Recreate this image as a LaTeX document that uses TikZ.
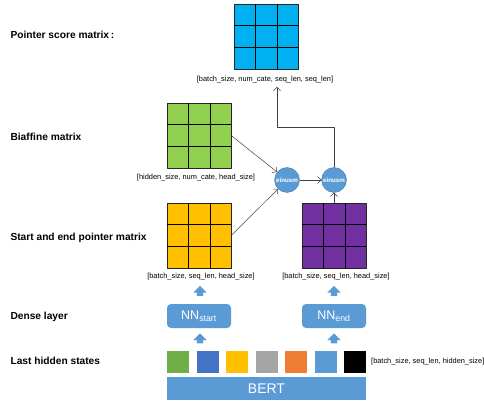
\documentclass[tikz,border=0pt]{standalone}
\usepackage{fontspec}
\setmainfont{Liberation Sans}
\usetikzlibrary{arrows.meta,shapes.arrows,calc}
\definecolor{cscore}{RGB}{0,176,240}
\definecolor{cbia}{RGB}{146,208,80}
\definecolor{cstart}{RGB}{255,192,0}
\definecolor{cend}{RGB}{112,48,160}
\definecolor{cnode}{RGB}{91,155,213}
\definecolor{hgreen}{RGB}{112,173,71}
\definecolor{hblue}{RGB}{68,114,196}
\definecolor{hgray}{RGB}{165,165,165}
\definecolor{horange}{RGB}{237,125,49}
% matrix of 3x3 cells: name, centre, fill
\newcommand{\cellmat}[3]{%
  \node[mat, fill=#3] (#1) at (#2) {};
  \foreach \k in {1,2} {
    \draw ($(#1.north west)!\k/3!(#1.north east)$) -- ($(#1.south west)!\k/3!(#1.south east)$);
    \draw ($(#1.north west)!\k/3!(#1.south west)$) -- ($(#1.north east)!\k/3!(#1.south east)$);
  }
}
\begin{document}
\begin{tikzpicture}[x=1pt,y=-1pt,>={Straight Barb[length=3.5pt]}, font=\fontsize{7.4}{9}\selectfont, line join=round]
  \tikzset{
    mat/.style={draw=black!85, minimum width=64pt, minimum height=65pt, inner sep=0pt},
    rowlbl/.style={anchor=west, font=\fontsize{10.2}{12}\selectfont\bfseries},
    einsum/.style={circle, fill=cnode, draw=cnode!80!black, minimum size=25pt, inner sep=0pt,
      text=white, font=\fontsize{6.2}{7}\selectfont\bfseries},
    dense/.style={rounded corners=4pt, fill=cnode, minimum width=64pt, minimum height=24pt,
      text=white, font=\fontsize{12.5}{14}\selectfont},
    hs/.style={minimum size=22pt, inner sep=0pt},
    blockarrow/.style={single arrow, fill=cnode, minimum height=10pt, inner sep=3pt,
      single arrow head extend=3.5pt, shape border rotate=90},
    conn/.style={->, draw=black!75, line width=0.5pt}
  }
  \useasboundingbox (0,0) rectangle (484,403);
  % row labels
  \node[rowlbl] (l1) at (7,35) {Pointer score matrix\,:};
  \node[rowlbl] (l2) at (7,137) {Biaffine matrix};
  \node[rowlbl] (l3) at (7,238) {Start and end pointer matrix};
  \node[rowlbl] (l4) at (7,317) {Dense layer};
  \node[rowlbl] (l5) at (7,361) {Last hidden states};
  % matrices
  \cellmat{score}{266,36.5}{cscore}
  \cellmat{bia}{199,135.5}{cbia}
  \cellmat{pstart}{199,235.5}{cstart}
  \cellmat{pend}{334,235.5}{cend}
  \node (scorelbl) at (265,80) {[batch\_size, num\_cate, seq\_len, seq\_len]};
  \node (bialbl) at (196,178) {[hidden\_size, num\_cate, head\_size]};
  \node (startlbl) at (201,277) {[batch\_size, seq\_len, head\_size]};
  \node (endlbl) at (336,277) {[batch\_size, seq\_len, head\_size]};
  % einsum
  \node[einsum] (e1) at (287,180) {einusm};
  \node[einsum] (e2) at (334,180) {einusm};
  \coordinate (bend) at (277,127);
  \draw[conn] (bia.east) -- (e1);
  \draw[conn] (pstart.east) -- (e1);
  \draw[conn] (e1) -- (e2);
  \draw[conn] (pend.north) -- (e2.south);
  \draw[conn] (e2.north) |- (bend) -- (bend |- scorelbl.south);
  % dense layer
  \node[dense] (nns) at (199,316) {NN\textsubscript{start}};
  \node[dense] (nne) at (334,316) {NN\textsubscript{end}};
  \node[blockarrow] (ba1) at (200,292.5) {};
  \node[blockarrow] (ba2) at (334,292.5) {};
  \node[blockarrow] (ba3) at (200,340) {};
  \node[blockarrow] (ba4) at (334,340) {};
  % hidden states
  \foreach \c [count=\i from 0] in {hgreen,hblue,cstart,hgray,horange,cnode,black}
    \node[hs, fill=\c] (h\i) at (178+\i*29.5,362) {};
  \node[anchor=west, inner sep=0pt] (hslbl) at (371,362) {[batch\_size, seq\_len, hidden\_size]};
  \node[fill=cnode, minimum width=199pt, minimum height=23pt, text=white,
    font=\fontsize{14}{16}\selectfont] (bert) at (266.5,388.5) {BERT};
\end{tikzpicture}
\end{document}
